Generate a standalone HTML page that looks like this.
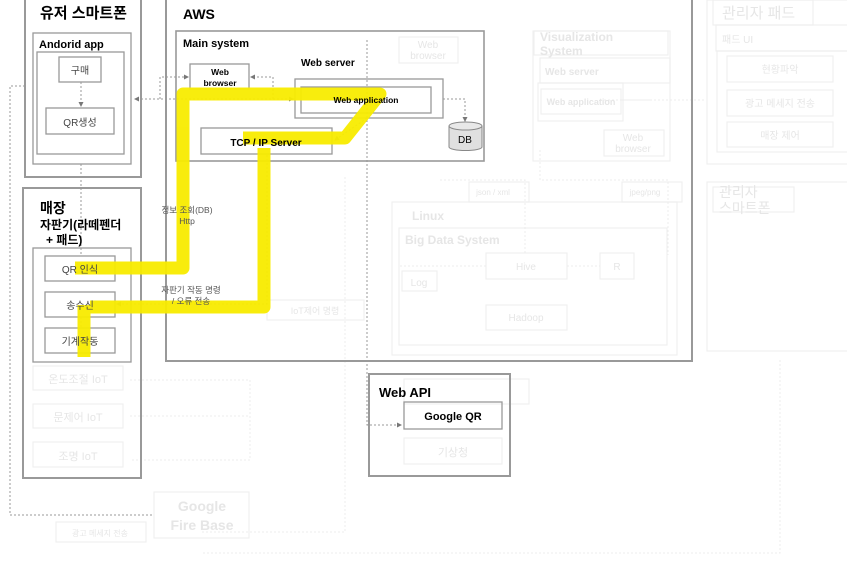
<!DOCTYPE html>
<html><head><meta charset="utf-8"><style>
html,body{margin:0;padding:0;background:#fff;}
svg{display:block;font-family:"Liberation Sans","Noto Sans CJK KR",sans-serif;}
</style></head><body>
<svg width="847" height="562" viewBox="0 0 847 562" xmlns="http://www.w3.org/2000/svg">
<defs>
<marker id="a" markerWidth="5" markerHeight="5" refX="4" refY="2.5" orient="auto"><path d="M0,0L5,2.5L0,5z" fill="#777"/></marker>
</defs>
<rect width="847" height="562" fill="#fff"/>
<g fill="none" stroke="#efefef" stroke-width="1.2">
<rect x="399" y="37" width="59" height="26"/>
<rect x="533" y="31" width="137" height="130"/>
<rect x="534" y="31" width="134" height="24"/>
<rect x="540" y="58" width="130" height="25"/>
<rect x="538" y="83" width="85" height="38"/>
<rect x="541" y="89" width="80" height="25"/>
<rect x="604" y="130" width="60" height="26"/>
<rect x="469" y="182" width="60" height="20"/>
<rect x="622" y="182" width="60" height="20"/>
<rect x="392" y="202" width="285" height="153"/>
<rect x="399" y="228" width="268" height="117"/>
<rect x="486" y="253" width="81" height="26"/>
<rect x="600" y="253" width="34" height="26"/>
<rect x="486" y="305" width="81" height="25"/>
<rect x="402" y="271" width="35" height="20"/>
<rect x="267" y="300" width="97" height="20"/>
<rect x="707" y="0" width="150" height="164"/>
<rect x="713" y="0" width="100" height="25"/>
<rect x="716" y="25" width="135" height="26"/>
<rect x="717" y="51" width="137" height="101"/>
<rect x="727" y="56" width="106" height="26"/>
<rect x="727" y="90" width="106" height="26"/>
<rect x="727" y="122" width="106" height="25"/>
<rect x="707" y="182" width="150" height="169"/>
<rect x="713" y="187" width="81" height="25"/>
<rect x="33" y="366" width="90" height="24"/>
<rect x="33" y="404" width="90" height="24"/>
<rect x="33" y="442" width="90" height="25"/>
<rect x="154" y="492" width="95" height="46"/>
<rect x="56" y="522" width="90" height="20"/>
<rect x="404" y="438" width="98" height="26"/>
<rect x="404" y="379" width="125" height="25"/>
</g>
<g fill="none" stroke="#ececec" stroke-dasharray="2,2">
<path d="M202,532H345V175"/>
<path d="M600,100H650"/>
<path d="M440,180H525V255"/>
<path d="M540,150V180H668V255"/>
<path d="M400,266H486"/>
<path d="M567,266H600"/>
<path d="M130,380H250V460H130"/>
<path d="M130,416H250"/>
<path d="M203,553H780V360"/>
<path d="M622,100H706"/>
</g>
<g font-size="10" fill="#e6e6e6" text-anchor="middle">
<text x="428" y="48">Web</text><text x="428" y="59">browser</text>
<text x="540" y="41" font-size="12" text-anchor="start" font-weight="bold">Visualization</text>
<text x="540" y="55" font-size="12" text-anchor="start" font-weight="bold">System</text>
<text x="545" y="75" font-size="10" text-anchor="start" font-weight="bold">Web server</text>
<text x="581" y="105" font-weight="bold" font-size="9">Web application</text>
<text x="633" y="141">Web</text><text x="633" y="152">browser</text>
<text x="493" y="195" font-size="8">json / xml</text>
<text x="645" y="195" font-size="8">jpeg/png</text>
<text x="412" y="220" font-size="12" font-weight="bold" text-anchor="start">Linux</text>
<text x="405" y="244" font-size="12" font-weight="bold" text-anchor="start">Big Data System</text>
<text x="526" y="270">Hive</text><text x="617" y="270">R</text>
<text x="526" y="321">Hadoop</text><text x="419" y="286">Log</text>
<text x="315" y="314" font-size="9">IoT제어 명령</text>
<text x="722" y="18" font-size="15" text-anchor="start">관리자 패드</text>
<text x="722" y="43" font-size="10" text-anchor="start">패드 UI</text>
<text x="780" y="73">현황파악</text><text x="780" y="107">광고 메세지 전송</text><text x="780" y="139">매장 제어</text>
<text x="719" y="197" font-size="14" text-anchor="start">관리자</text>
<text x="719" y="213" font-size="14" text-anchor="start">스마트폰</text>
<text x="78" y="383" font-size="11">온도조절 IoT</text>
<text x="78" y="421" font-size="11">문제어 IoT</text>
<text x="78" y="460" font-size="11">조명 IoT</text>
<text x="202" y="511" font-size="14" font-weight="bold">Google</text>
<text x="202" y="530" font-size="14" font-weight="bold">Fire Base</text>
<text x="100" y="536" font-size="8">광고 메세지 전송</text>
<text x="453" y="456" font-size="11">기상청</text>
</g>
<g fill="none" stroke="#999" stroke-width="1.3">
<rect x="25" y="-2" width="116" height="179" stroke-width="2"/>
<rect x="33" y="33" width="98" height="131"/>
<rect x="37" y="52" width="87" height="102"/>
<rect x="59" y="57" width="42" height="25"/>
<rect x="46" y="108" width="68" height="26"/>
<rect x="23" y="188" width="118" height="290" stroke-width="2"/>
<rect x="33" y="248" width="98" height="114"/>
<rect x="45" y="256" width="70" height="25"/>
<rect x="45" y="292" width="70" height="25"/>
<rect x="45" y="328" width="70" height="25"/>
<rect x="166" y="-2" width="526" height="363" stroke-width="2"/>
<rect x="176" y="31" width="308" height="130" stroke-width="1.6"/>
<rect x="190" y="64" width="59" height="25"/>
<rect x="295" y="79" width="148" height="39"/>
<rect x="301" y="87" width="130" height="26"/>
<rect x="201" y="128" width="131" height="26"/>
<rect x="369" y="374" width="141" height="102" stroke-width="2"/>
<rect x="404" y="402" width="98" height="27"/>
</g>
<path d="M449,126V147A16.5,3.5 0 0 0 482,147V126" fill="#e0e0e0" stroke="#888"/>
<ellipse cx="465.5" cy="126" rx="16.5" ry="4" fill="#e8e8e8" stroke="#888"/>
<g fill="none" stroke="#999" stroke-dasharray="2,2" stroke-width="1">
<path d="M25,86H10V515H154"/>
<path d="M81,82V106" marker-end="url(#a)"/>
<path d="M81,164V255"/>
<path d="M295,99H135" marker-end="url(#a)"/>
<path d="M160,99V77H188" marker-end="url(#a)"/>
<path d="M273,99V77H251" marker-end="url(#a)"/>
<path d="M185,99H293" marker-end="url(#a)"/>
<path d="M443,99H465V121" marker-end="url(#a)"/>
<path d="M367,118L335,140" marker-end="url(#a)"/>
<path d="M367,40V425H401" marker-end="url(#a)"/>
<path d="M267,155V304H117" marker-end="url(#a)"/>
<path d="M81,317V327"/>
</g>
<g fill="none" stroke="#f8ec00" stroke-width="13" stroke-linejoin="round" stroke-linecap="butt" opacity="0.95">
<path d="M75,268H183V94H380L345,138H243"/>
<path d="M264,148V307H90"/>
<path d="M84,305V357"/>
</g>
<g fill="#000">
<text x="40" y="18" font-size="15" font-weight="bold">유저 스마트폰</text>
<text x="39" y="48" font-size="11" font-weight="bold">Andorid app</text>
<text x="80" y="74" font-size="10" text-anchor="middle" fill="#444">구매</text>
<text x="80" y="126" font-size="10" text-anchor="middle" fill="#444">QR생성</text>
<text x="40" y="213" font-size="14" font-weight="bold">매장</text>
<text x="40" y="229" font-size="12" font-weight="bold">자판기(라떼펜더</text>
<text x="46" y="244" font-size="12" font-weight="bold">+   패드)</text>
<text x="80" y="273" font-size="10" text-anchor="middle" fill="#444">QR 인식</text>
<text x="80" y="309" font-size="10" text-anchor="middle" fill="#444">송수신</text>
<text x="80" y="345" font-size="10" text-anchor="middle" fill="#444">기계작동</text>
<text x="183" y="19" font-size="14" font-weight="bold">AWS</text>
<text x="183" y="47" font-size="11" font-weight="bold">Main system</text>
<text x="220" y="75" font-size="8.5" font-weight="bold" text-anchor="middle">Web</text>
<text x="220" y="86" font-size="8.5" font-weight="bold" text-anchor="middle">browser</text>
<text x="301" y="66" font-size="10" font-weight="bold">Web server</text>
<text x="366" y="103" font-size="8.5" font-weight="bold" text-anchor="middle">Web application</text>
<text x="266" y="146" font-size="10" font-weight="bold" text-anchor="middle">TCP / IP Server</text>
<text x="465" y="143" font-size="10" text-anchor="middle">DB</text>
<text x="187" y="213" font-size="8.5" text-anchor="middle" fill="#555">정보 조회(DB)</text>
<text x="187" y="224" font-size="8.5" text-anchor="middle" fill="#555">Http</text>
<text x="191" y="293" font-size="8.5" text-anchor="middle" fill="#555">자판기 작동 명령</text>
<text x="191" y="304" font-size="8.5" text-anchor="middle" fill="#555">/ 오류 전송</text>
<text x="379" y="397" font-size="13" font-weight="bold">Web API</text>
<text x="453" y="420" font-size="11" font-weight="bold" text-anchor="middle">Google QR</text>
</g>
</svg>
</body></html>
